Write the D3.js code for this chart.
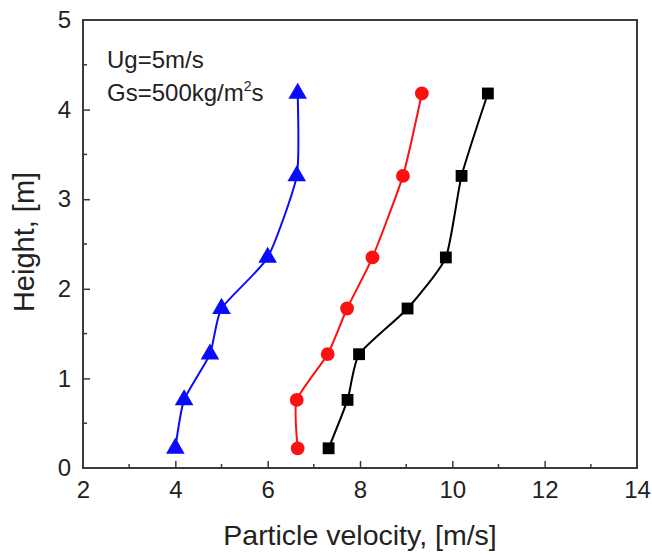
<!DOCTYPE html>
<html>
<head>
<meta charset="utf-8">
<script src="https://cdn.jsdelivr.net/npm/d3@7"></script>
<style>
  body { margin: 0; background: #fff; }
  text { font-family: "Liberation Sans", Arial, sans-serif; fill: #222; }
</style>
</head>
<body>
<div id="chart"></div>
<script>
// heights of measuring points [m]
var heights = [0.22, 0.76, 1.27, 1.78, 2.35, 3.26, 4.18];
// particle velocity [m/s] per curve
var velBlue = [4.0, 4.19, 4.75, 5.0, 6.0, 6.63, 6.65];
var velRed = [6.65, 6.63, 7.3, 7.72, 8.27, 8.93, 9.34];
var velBlack = [7.32, 7.73, 7.98, 9.03, 9.86, 10.2, 10.77];
var xTicks = [2, 4, 6, 8, 10, 12, 14];
var yTicks = [0, 1, 2, 3, 4, 5];

var width = 652, height = 558;
var margin = {left: 83, right: 15, top: 20, bottom: 90};

var svg = d3.select('#chart').append('svg')
  .attr('width', width)
  .attr('height', height);

var x = d3.scaleLinear().domain([2, 14]).range([margin.left, width - margin.right]);
var y = d3.scaleLinear().domain([0, 5]).range([height - margin.bottom, margin.top]);

var axisColor = '#3a3a3a';

// minor ticks
var g = svg.append('g');
d3.range(3, 14, 2).forEach(function(v) {
  g.append('line').attr('x1', x(v)).attr('x2', x(v))
    .attr('y1', y(0)).attr('y2', y(0) - 4)
    .attr('stroke', axisColor).attr('stroke-width', 1.5);
});
d3.range(0.5, 5, 1).forEach(function(v) {
  g.append('line').attr('x1', x(2)).attr('x2', x(2) + 4)
    .attr('y1', y(v)).attr('y2', y(v))
    .attr('stroke', axisColor).attr('stroke-width', 1.5);
});

// major ticks + labels
var xAxis = svg.append('g')
  .attr('transform', 'translate(0,' + y(0) + ')')
  .call(d3.axisBottom(x).tickValues(xTicks).tickFormat(d3.format('d'))
    .tickSizeInner(-7).tickSizeOuter(0).tickPadding(13));
var yAxis = svg.append('g')
  .attr('transform', 'translate(' + x(2) + ',0)')
  .call(d3.axisLeft(y).tickValues(yTicks).tickFormat(d3.format('d'))
    .tickSizeInner(-7).tickSizeOuter(0).tickPadding(12));

[xAxis, yAxis].forEach(function(a) {
  a.select('.domain').remove();
  a.selectAll('line').attr('stroke', axisColor).attr('stroke-width', 1.5);
  a.selectAll('text').style('font-size', '24px').style('font-family', '"Liberation Sans", Arial, sans-serif').attr('fill', '#222');
});
// hide tick marks sitting on the frame corners
xAxis.selectAll('.tick').filter(function(d) { return d === 2 || d === 14; }).select('line').remove();
yAxis.selectAll('.tick').filter(function(d) { return d === 0 || d === 5; }).select('line').remove();

// frame
svg.append('rect')
  .attr('x', x(2)).attr('y', y(5))
  .attr('width', x(14) - x(2)).attr('height', y(0) - y(5))
  .attr('fill', 'none').attr('stroke', axisColor).attr('stroke-width', 2);

// axis titles
svg.append('text')
  .attr('x', 360).attr('y', 545)
  .attr('text-anchor', 'middle').style('font-size', '28.5px')
  .text('Particle velocity, [m/s]');
svg.append('text')
  .attr('transform', 'translate(34,242) rotate(-90)')
  .attr('text-anchor', 'middle').style('font-size', '29px')
  .text('Height, [m]');

// annotation
var note = svg.append('g').style('font-size', '24px');
note.append('text').attr('x', 107).attr('y', 68).text('Ug=5m/s');
var t2 = note.append('text').attr('x', 107).attr('y', 101);
t2.append('tspan').text('Gs=500kg/m');
t2.append('tspan').attr('dy', -10).style('font-size', '14px').text('2');
t2.append('tspan').attr('dy', 10).text('s');

var line = d3.line()
  .x(function(d) { return x(d[0]); })
  .y(function(d) { return y(d[1]); })
  .curve(d3.curveCardinal.tension(0.45));

var series = [
  {vals: velBlue, color: '#0a0aff', symbol: d3.symbolTriangle, size: 150},
  {vals: velRed, color: '#ff1010', symbol: d3.symbolCircle, size: 150},
  {vals: velBlack, color: '#000000', symbol: d3.symbolSquare, size: 140}
];

series.forEach(function(s) {
  var pts = s.vals.map(function(v, i) { return [v, heights[i]]; });
  svg.append('path').datum(pts)
    .attr('d', line)
    .attr('fill', 'none').attr('stroke', s.color).attr('stroke-width', 2);
  svg.selectAll(null).data(pts).enter().append('path')
    .attr('transform', function(d) { return 'translate(' + x(d[0]) + ',' + y(d[1]) + ')'; })
    .attr('d', d3.symbol().type(s.symbol).size(s.size))
    .attr('fill', s.color);
});
</script>
</body>
</html>
